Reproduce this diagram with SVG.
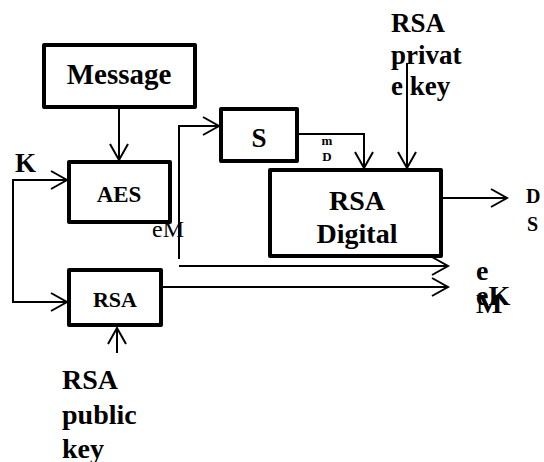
<svg xmlns="http://www.w3.org/2000/svg" width="544" height="462" viewBox="0 0 544 462">
<defs>
<style>
.box{fill:#fff;stroke:#000;stroke-width:4;stroke-linejoin:round}
.ln{fill:none;stroke:#000;stroke-width:2}
text{fill:#000}
.t{font-weight:bold}
.r{font-weight:normal}
</style>
<marker id="ah" markerUnits="userSpaceOnUse" markerWidth="20" markerHeight="22" refX="17" refY="10" orient="auto" overflow="visible">
<path d="M1,1 L17,10 L1,19" fill="none" stroke="#000" stroke-width="2"/>
</marker>
<clipPath id="clipDig"><rect x="272" y="172" width="167" height="82"/></clipPath>
</defs>
<g id="connectors">
<line class="ln" x1="119" y1="109" x2="119" y2="160" marker-end="url(#ah)"/>
<line class="ln" x1="12" y1="180" x2="67" y2="180" marker-end="url(#ah)"/>
<polyline class="ln" points="13,180 13,302 67,302" marker-end="url(#ah)"/>
<line class="ln" x1="179" y1="259" x2="179" y2="125"/>
<line class="ln" x1="178" y1="126" x2="219" y2="126" marker-end="url(#ah)"/>
<line class="ln" x1="179" y1="266" x2="448" y2="266" marker-end="url(#ah)"/>
<line class="ln" x1="163" y1="287" x2="448" y2="287" marker-end="url(#ah)"/>
<polyline class="ln" points="299,134 364,134 364,168" marker-end="url(#ah)"/>
<line class="ln" x1="407" y1="63" x2="407" y2="168" marker-end="url(#ah)"/>
<line class="ln" x1="443" y1="198" x2="507" y2="198" marker-end="url(#ah)"/>
<line class="ln" x1="117" y1="353" x2="117" y2="328" marker-end="url(#ah)"/>
</g>
<g font-family="Liberation Serif, Times New Roman, DejaVu Serif, serif">
<g id="message">
<rect class="box" x="44" y="45" width="151" height="62"/>
<text class="t" x="119" y="84" font-size="29" text-anchor="middle">Message</text>
</g>
<g id="aes">
<rect class="box" x="69" y="162" width="101" height="60"/>
<text class="t" x="119" y="202" font-size="23" text-anchor="middle">AES</text>
</g>
<g id="rsa">
<rect class="box" x="69" y="270" width="92" height="55"/>
<text class="t" x="115" y="307" font-size="22" text-anchor="middle">RSA</text>
</g>
<g id="s">
<rect class="box" x="221" y="109" width="76" height="52"/>
<text class="t" x="259" y="147" font-size="27" text-anchor="middle">S</text>
</g>
<g id="rsa-digital">
<rect class="box" x="270" y="170" width="171" height="86"/>
<g clip-path="url(#clipDig)">
<text class="t" x="357" y="210" font-size="28" text-anchor="middle">RSA</text>
<text class="t" x="357" y="243" font-size="28" text-anchor="middle">Digital</text>
</g>
</g>
<g id="labels">
<text class="t" x="15" y="172" font-size="27">K</text>
<text class="t" x="62" y="389" font-size="28">RSA</text>
<text class="t" x="62" y="424" font-size="28">public</text>
<text class="t" x="62" y="458" font-size="28">key</text>
<text class="t" x="391" y="32" font-size="27">RSA</text>
<text class="t" x="391" y="64" font-size="27">privat</text>
<text class="t" x="391" y="95" font-size="27">e key</text>
<text class="t" x="327" y="145" font-size="13" text-anchor="middle">m</text>
<text class="t" x="327" y="161" font-size="13" text-anchor="middle">D</text>
<text class="t" x="526" y="203" font-size="20">D</text>
<text class="t" x="527" y="231" font-size="20">S</text>
<text class="r" x="152" y="237" font-size="24">eM</text>
<text class="t" x="476" y="280" font-size="28">e</text>
<text class="t" x="476" y="305" font-size="28">eK</text>
<text class="t" x="476" y="313" font-size="28">M</text>
</g>
</g>
</svg>
